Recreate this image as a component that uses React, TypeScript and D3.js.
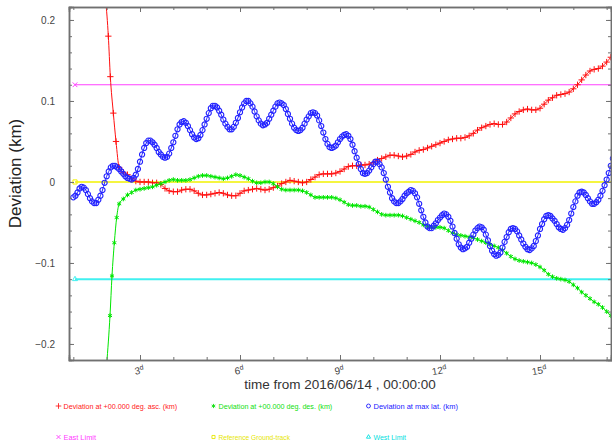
import React, { useEffect, useRef } from "react";
import * as d3 from "d3";

// deviation at max latitude (km), sampled every 1/16 day from day 1.0
const BLUE_START = 1.0;
const BLUE_STEP = 0.0625;
const blueMaxLat = [
  -0.019, -0.017, -0.013, -0.008, -0.006, -0.007, -0.010, -0.015, -0.020, -0.024, -0.026, -0.026, -0.022, -0.017, -0.010, -0.001,
  0.007, 0.013, 0.018, 0.020, 0.020, 0.018, 0.016, 0.013, 0.010, 0.007, 0.005, 0.004, 0.003, 0.005, 0.009, 0.016,
  0.025, 0.034, 0.042, 0.048, 0.051, 0.051, 0.049, 0.046, 0.042, 0.037, 0.034, 0.031, 0.030, 0.031, 0.035, 0.042,
  0.049, 0.057, 0.065, 0.071, 0.074, 0.075, 0.073, 0.069, 0.064, 0.059, 0.055, 0.053, 0.054, 0.058, 0.064, 0.071,
  0.078, 0.085, 0.091, 0.094, 0.094, 0.092, 0.088, 0.083, 0.077, 0.072, 0.068, 0.065, 0.065, 0.068, 0.073, 0.079,
  0.086, 0.092, 0.097, 0.100, 0.100, 0.097, 0.093, 0.087, 0.081, 0.076, 0.072, 0.070, 0.071, 0.073, 0.078, 0.083,
  0.088, 0.093, 0.097, 0.098, 0.097, 0.095, 0.090, 0.084, 0.078, 0.072, 0.067, 0.064, 0.063, 0.064, 0.067, 0.072,
  0.077, 0.081, 0.085, 0.086, 0.085, 0.082, 0.076, 0.069, 0.061, 0.053, 0.047, 0.043, 0.042, 0.043, 0.045, 0.049,
  0.053, 0.056, 0.058, 0.059, 0.057, 0.053, 0.046, 0.038, 0.030, 0.022, 0.016, 0.011, 0.010, 0.011, 0.014, 0.018,
  0.022, 0.025, 0.025, 0.022, 0.018, 0.011, 0.003, -0.006, -0.013, -0.020, -0.024, -0.026, -0.026, -0.024, -0.021, -0.017,
  -0.014, -0.012, -0.010, -0.011, -0.014, -0.019, -0.027, -0.035, -0.043, -0.050, -0.055, -0.057, -0.057, -0.054, -0.051, -0.047,
  -0.044, -0.041, -0.039, -0.040, -0.043, -0.048, -0.055, -0.063, -0.070, -0.077, -0.081, -0.083, -0.082, -0.080, -0.075, -0.070,
  -0.065, -0.060, -0.057, -0.055, -0.056, -0.059, -0.065, -0.072, -0.079, -0.085, -0.089, -0.091, -0.090, -0.087, -0.081, -0.074,
  -0.068, -0.062, -0.058, -0.057, -0.058, -0.061, -0.066, -0.071, -0.076, -0.080, -0.083, -0.084, -0.082, -0.079, -0.073, -0.066,
  -0.058, -0.052, -0.046, -0.042, -0.041, -0.042, -0.045, -0.048, -0.052, -0.056, -0.058, -0.059, -0.057, -0.053, -0.047, -0.039,
  -0.031, -0.024, -0.017, -0.013, -0.012, -0.013, -0.016, -0.020, -0.024, -0.027, -0.027, -0.025, -0.022, -0.017, -0.011, -0.004,
  0.003, 0.011, 0.020, 0.029
];

// asc./des. deviations: steep start as [day, km], then every 1/8 day from 2.375
const BODY_START = 2.375;
const BODY_STEP = 0.125;
const redAscHead: [number, number][] = [[1.97, 0.225], [2.05, 0.18], [2.11, 0.13], [2.2, 0.085], [2.28, 0.05]];
const redAsc = [
  0.018, 0.012, 0.009, 0.004, 0.001,
  0.000, 0.000, 0.000, -0.001, -0.001, -0.003, -0.008, -0.011,
  -0.012, -0.012, -0.010, -0.009, -0.009, -0.011, -0.014, -0.016,
  -0.016, -0.015, -0.014, -0.013, -0.014, -0.016, -0.017, -0.017,
  -0.014, -0.011, -0.010, -0.009, -0.008, -0.009, -0.010, -0.009,
  -0.007, -0.005, -0.002, 0.000, 0.002, 0.001, 0.000, -0.001,
  0.000, 0.003, 0.006, 0.009, 0.010, 0.010, 0.010, 0.011,
  0.013, 0.016, 0.019, 0.020, 0.020, 0.021, 0.021, 0.022,
  0.024, 0.027, 0.029, 0.031, 0.033, 0.033, 0.032, 0.031,
  0.032, 0.034, 0.037, 0.039, 0.040, 0.042, 0.044, 0.046,
  0.048, 0.050, 0.052, 0.053, 0.054, 0.054, 0.055, 0.057,
  0.060, 0.064, 0.067, 0.069, 0.071, 0.072, 0.071, 0.071,
  0.074, 0.079, 0.084, 0.087, 0.089, 0.090, 0.089, 0.089,
  0.091, 0.096, 0.101, 0.104, 0.107, 0.108, 0.109, 0.111,
  0.115, 0.120, 0.126, 0.132, 0.137, 0.139, 0.140, 0.143,
  0.148, 0.154
];
const greenDesHead: [number, number][] = [[2.0, -0.225], [2.1, -0.165], [2.16, -0.116], [2.23, -0.075], [2.3, -0.044]];
const greenDes = [
  -0.027, -0.021, -0.016, -0.013, -0.010,
  -0.009, -0.008, -0.007, -0.006, -0.004, -0.002, 0.000, 0.002,
  0.003, 0.002, 0.002, 0.002, 0.003, 0.005, 0.007, 0.008,
  0.008, 0.007, 0.006, 0.005, 0.004, 0.005, 0.007, 0.009,
  0.008, 0.006, 0.004, 0.001, -0.001, -0.001, 0.000, 0.000,
  -0.002, -0.006, -0.009, -0.010, -0.010, -0.010, -0.010, -0.011,
  -0.013, -0.016, -0.019, -0.019, -0.019, -0.019, -0.019, -0.020,
  -0.022, -0.025, -0.028, -0.029, -0.029, -0.030, -0.030, -0.031,
  -0.034, -0.037, -0.040, -0.041, -0.041, -0.041, -0.041, -0.042,
  -0.044, -0.046, -0.048, -0.050, -0.053, -0.055, -0.056, -0.056,
  -0.056, -0.057, -0.060, -0.063, -0.065, -0.066, -0.067, -0.068,
  -0.069, -0.071, -0.073, -0.075, -0.077, -0.079, -0.081, -0.084,
  -0.088, -0.092, -0.095, -0.097, -0.098, -0.099, -0.100, -0.102,
  -0.105, -0.109, -0.114, -0.117, -0.119, -0.120, -0.121, -0.123,
  -0.127, -0.131, -0.136, -0.140, -0.144, -0.148, -0.151, -0.155,
  -0.160, -0.165
];

// reference lines: [start day, end day], value
const limitDays = [1.05, 17.5];
const eastLimit = 0.12;
const refTrack = 0;
const westLimit = -0.12;

const yTicks = [-0.2, -0.1, 0, 0.1, 0.2];
const xTicks = [3, 6, 9, 12, 15];

const legendLabels = [
  "Deviation at +00.000 deg. asc. (km)",
  "Deviation at +00.000 deg. des. (km)",
  "Deviation at max lat. (km)",
  "East Limit",
  "Reference Ground-track",
  "West Limit"
];
const legendColors = ["#ff2020", "#10e010", "#2020ff", "#ff40ff", "#e6e600", "#00e0e0"];

function App() {
  const ref = useRef<SVGSVGElement>(null);

  useEffect(() => {
    const width = 612;
    const height = 445;
    const margin = { top: 7, right: 1, bottom: 85, left: 69 };

    const svg = d3.select(ref.current);
    svg.selectAll("*").remove();

    const x = d3.scaleLinear().domain([0.87, 17.13]).range([margin.left, width - margin.right]);
    const y = d3.scaleLinear().domain([-0.2198, 0.216]).range([height - margin.bottom, margin.top]);

    svg.append("defs").append("clipPath").attr("id", "plotclip")
      .append("rect")
      .attr("x", margin.left).attr("y", margin.top)
      .attr("width", width - margin.left - margin.right)
      .attr("height", height - margin.top - margin.bottom);

    const plot = svg.append("g").attr("clip-path", "url(#plotclip)");

    const line = d3.line<[number, number]>()
      .x(d => x(d[0]))
      .y(d => y(d[1]))
      .curve(d3.curveMonotoneX);

    const symbols = [d3.symbolPlus, d3.symbolAsterisk, d3.symbolCircle, d3.symbolTimes, d3.symbolSquare2, d3.symbolTriangle2];
    const sizes = [15, 15, 21, 16, 22, 18];

    // Limites e traço de referência
    const limits = [
      { v: eastLimit, color: "#ff40ff", w: 1.2, s: 3 },
      { v: refTrack, color: "#f2f200", w: 1.5, s: 4 },
      { v: westLimit, color: "#40f0f0", w: 2, s: 5 }
    ];
    limits.forEach(l => {
      const pts: [number, number][] = limitDays.map(d => [d, l.v]);
      plot.append("path").attr("d", line(pts)).attr("fill", "none")
        .attr("stroke", l.color).attr("stroke-width", l.w);
      plot.append("path")
        .attr("d", d3.symbol().type(symbols[l.s]).size(sizes[l.s])())
        .attr("transform", `translate(${x(pts[0][0])},${y(pts[0][1])})`)
        .attr("fill", "none").attr("stroke", l.color).attr("stroke-width", 1);
    });

    // Séries
    const redPts: [number, number][] = redAscHead.concat(redAsc.map((v, i) => [BODY_START + i * BODY_STEP, v] as [number, number]));
    const greenPts: [number, number][] = greenDesHead.concat(greenDes.map((v, i) => [BODY_START + i * BODY_STEP, v] as [number, number]));
    const bluePts: [number, number][] = blueMaxLat.map((v, i) => [BLUE_START + i * BLUE_STEP, v]);

    const series = [
      { pts: redPts, color: "#ff1010", s: 0 },
      { pts: greenPts, color: "#00e600", s: 1 },
      { pts: bluePts, color: "#2222ff", s: 2 }
    ];
    series.forEach(sr => {
      plot.append("path").attr("d", line(sr.pts)).attr("fill", "none")
        .attr("stroke", sr.color).attr("stroke-width", 1);
      plot.append("g").selectAll("path").data(sr.pts).join("path")
        .attr("d", d3.symbol().type(symbols[sr.s]).size(sizes[sr.s])())
        .attr("transform", d => `translate(${x(d[0])},${y(d[1])})`)
        .attr("fill", "none").attr("stroke", sr.color)
        .attr("stroke-width", sr.s === 2 ? 1.1 : 1);
    });

    // Eixos
    const axisColor = "#707070";
    const minorY = d3.range(-20, 21, 2).map(k => k / 100);
    const minorX = d3.range(1, 18);
    const styleAxis = (g: d3.Selection<SVGGElement, unknown, null, undefined>) => {
      g.selectAll("line").attr("stroke", axisColor);
      g.select(".domain").attr("stroke", axisColor).attr("stroke-width", 1.5);
    };

    const left = svg.append("g").attr("transform", `translate(${margin.left},0)`)
      .call(d3.axisLeft(y).tickValues(yTicks).tickSize(-5).tickPadding(14).tickFormat(d3.format("~g")));
    styleAxis(left);
    left.selectAll("text").attr("fill", "#444").attr("font-size", 10)
      .attr("font-family", "Liberation Sans, Arial, sans-serif");
    svg.append("g").attr("transform", `translate(${margin.left},0)`)
      .call(d3.axisLeft(y).tickValues(minorY).tickSize(-3).tickFormat(() => ""))
      .call(styleAxis);

    const right = svg.append("g").attr("transform", `translate(${width - margin.right},0)`);
    right.call(d3.axisRight(y).tickValues(yTicks).tickSize(-5).tickFormat(() => "")).call(styleAxis);
    svg.append("g").attr("transform", `translate(${width - margin.right},0)`)
      .call(d3.axisRight(y).tickValues(minorY).tickSize(-3).tickFormat(() => ""))
      .call(styleAxis);

    const bottom = svg.append("g").attr("transform", `translate(0,${height - margin.bottom})`);
    bottom.call(d3.axisBottom(x).tickValues(xTicks).tickSize(-5).tickFormat(() => "")).call(styleAxis);
    svg.append("g").attr("transform", `translate(0,${height - margin.bottom})`)
      .call(d3.axisBottom(x).tickValues(minorX).tickSize(-3).tickFormat(() => ""))
      .call(styleAxis);

    svg.append("g").attr("transform", `translate(0,${margin.top})`)
      .call(d3.axisTop(x).tickValues(xTicks).tickSize(-5).tickFormat(() => ""))
      .call(styleAxis);
    svg.append("g").attr("transform", `translate(0,${margin.top})`)
      .call(d3.axisTop(x).tickValues(minorX).tickSize(-3).tickFormat(() => ""))
      .call(styleAxis);

    // Rótulos do eixo X (dias)
    const xl = svg.append("g").selectAll("text").data(xTicks).join("text")
      .attr("transform", d => `translate(${x(d)},${height - margin.bottom + 14}) rotate(-10)`)
      .attr("text-anchor", "middle")
      .attr("fill", "#444")
      .attr("font-size", 10)
      .attr("font-family", "Liberation Sans, Arial, sans-serif");
    xl.append("tspan").text(d => String(d));
    xl.append("tspan").attr("font-size", 7).attr("dy", -4).text("d");

    svg.append("text")
      .attr("x", (margin.left + width - margin.right) / 2)
      .attr("y", 389)
      .attr("text-anchor", "middle")
      .attr("fill", "#333")
      .attr("font-size", 13.5)
      .attr("font-family", "Liberation Sans, Arial, sans-serif")
      .text("time from 2016/06/14 , 00:00:00");

    svg.append("text")
      .attr("transform", `translate(21,${(margin.top + height - margin.bottom) / 2 - 10}) rotate(-90)`)
      .attr("text-anchor", "middle")
      .attr("fill", "#222")
      .attr("font-size", 17)
      .attr("font-family", "Liberation Sans, Arial, sans-serif")
      .text("Deviation (km)");

    // Legenda
    const leg = svg.append("g").selectAll("g").data(legendLabels).join("g")
      .attr("transform", (d, i) => `translate(${58.5 + (i % 3) * 155},${406 + Math.floor(i / 3) * 31})`);
    leg.append("path")
      .attr("d", (d, i) => d3.symbol().type(symbols[i]).size(12)())
      .attr("fill", "none")
      .attr("stroke", (d, i) => legendColors[i])
      .attr("stroke-width", 0.9);
    leg.append("text")
      .attr("x", 5)
      .attr("dy", "0.35em")
      .attr("fill", (d, i) => legendColors[i])
      .attr("font-size", 8)
      .attr("font-family", "Liberation Sans, Arial, sans-serif")
      .attr("textLength", d => d.length * 3.25)
      .attr("lengthAdjust", "spacingAndGlyphs")
      .text(d => d);
  }, []);

  return (
    <svg
      ref={ref}
      width={612}
      height={445}
      style={{ position: "absolute", left: 0, top: 0, background: "#fff" }}
    ></svg>
  );
}

export default App;
